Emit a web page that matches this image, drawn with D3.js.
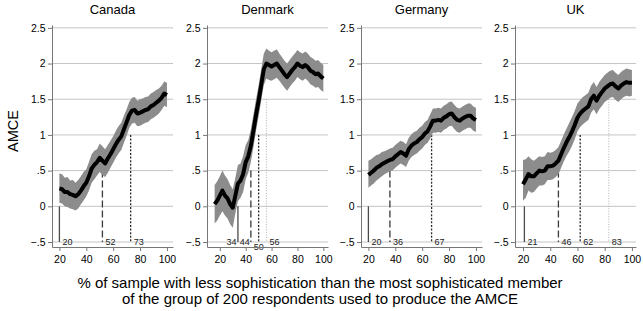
<!DOCTYPE html>
<html>
<head>
<meta charset="utf-8">
<script src="https://cdn.jsdelivr.net/npm/d3@7"></script>
<style>
body { margin: 0; background: #fff; }
svg { display: block; font-family: "Liberation Sans", Arial, Helvetica, sans-serif; }
</style>
</head>
<body>
<svg width="643" height="311"></svg>
<script>
//panel names
const countries = ["Canada", "Denmark", "Germany", "UK"];

//Canada: % of sample, AMCE, lower and upper bound
const canadaX = [20,22,24,26,28,30,32,34,36,38,40,42,44,46,48,50,52,54,56,58,60,62,64,66,68,70,72,74,76,78,80,82,84,86,88,90,92,94,96,98,100];
const canadaAmce = [0.25,0.24,0.2,0.2,0.17,0.16,0.14,0.17,0.22,0.28,0.33,0.42,0.53,0.58,0.62,0.68,0.64,0.6,0.67,0.73,0.8,0.87,0.93,0.98,1.08,1.18,1.28,1.34,1.35,1.3,1.31,1.33,1.35,1.36,1.4,1.42,1.45,1.48,1.52,1.58,1.56];
const canadaHi = [0.46,0.45,0.4,0.41,0.36,0.37,0.33,0.37,0.42,0.48,0.52,0.62,0.73,0.78,0.8,0.88,0.84,0.8,0.86,0.92,0.98,1.06,1.12,1.17,1.27,1.36,1.46,1.52,1.53,1.48,1.5,1.51,1.53,1.54,1.58,1.6,1.63,1.65,1.69,1.75,1.73];
const canadaLo = [0.05,0.04,0.0,-0.01,-0.03,-0.04,-0.06,-0.03,0.03,0.08,0.14,0.22,0.33,0.38,0.43,0.48,0.44,0.41,0.47,0.54,0.61,0.68,0.74,0.79,0.89,0.99,1.1,1.16,1.17,1.12,1.13,1.15,1.17,1.18,1.22,1.24,1.27,1.3,1.35,1.41,1.39];

//Denmark
const denmarkX = [16,18,20,22,24,26,28,30,32,34,36,38,40,42,44,46,48,50,52,54,56,58,60,62,64,66,68,70,72,74,76,78,80,82,84,86,88,90,92,94,96,98,100];
const denmarkAmce = [0.03,0.08,0.15,0.22,0.15,0.11,0.03,-0.02,0.15,0.32,0.36,0.45,0.62,0.7,0.85,1.06,1.28,1.48,1.7,1.92,2.0,1.98,1.96,1.98,2.0,1.95,1.9,1.85,1.81,1.86,1.91,1.95,2.0,1.97,1.95,1.98,1.95,1.9,1.88,1.85,1.86,1.82,1.79];
const denmarkHi = [0.3,0.35,0.42,0.5,0.43,0.38,0.3,0.24,0.4,0.58,0.6,0.7,0.86,0.93,1.08,1.29,1.5,1.7,1.92,2.14,2.21,2.18,2.16,2.18,2.2,2.14,2.09,2.04,2.0,2.05,2.1,2.14,2.19,2.16,2.14,2.17,2.14,2.09,2.07,2.04,2.05,2.01,1.98];
const denmarkLo = [-0.24,-0.2,-0.13,-0.07,-0.13,-0.17,-0.25,-0.3,-0.1,0.07,0.12,0.2,0.38,0.47,0.62,0.83,1.06,1.26,1.48,1.7,1.79,1.77,1.76,1.78,1.8,1.76,1.71,1.66,1.62,1.67,1.72,1.76,1.81,1.78,1.76,1.79,1.76,1.71,1.69,1.66,1.67,1.63,1.6];

//Germany
const germanyX = [20,22,24,26,28,30,32,34,36,38,40,42,44,46,48,50,52,54,56,58,60,62,64,66,68,70,72,74,76,78,80,82,84,86,88,90,92,94,96,98,100];
const germanyAmce = [0.44,0.47,0.5,0.54,0.56,0.59,0.61,0.63,0.65,0.66,0.7,0.73,0.76,0.74,0.71,0.8,0.85,0.88,0.9,0.94,0.97,1.02,1.05,1.12,1.2,1.2,1.21,1.2,1.24,1.26,1.29,1.3,1.25,1.21,1.2,1.23,1.25,1.27,1.27,1.23,1.21];
const germanyHi = [0.64,0.66,0.69,0.72,0.73,0.76,0.77,0.79,0.81,0.82,0.86,0.89,0.92,0.9,0.87,0.96,1.01,1.04,1.06,1.1,1.13,1.18,1.21,1.29,1.37,1.37,1.38,1.37,1.41,1.43,1.46,1.47,1.42,1.38,1.37,1.4,1.42,1.44,1.44,1.4,1.38];
const germanyLo = [0.26,0.29,0.32,0.36,0.39,0.42,0.45,0.47,0.49,0.5,0.54,0.57,0.6,0.58,0.55,0.64,0.69,0.72,0.74,0.78,0.81,0.86,0.89,0.95,1.03,1.03,1.04,1.03,1.07,1.09,1.12,1.13,1.08,1.04,1.03,1.06,1.08,1.1,1.1,1.06,1.04];

//UK
const ukX = [20,22,24,26,28,30,32,34,36,38,40,42,44,46,48,50,52,54,56,58,60,62,64,66,68,70,72,74,76,78,80,82,84,86,88,90,92,94,96,98,100];
const ukAmce = [0.31,0.38,0.45,0.42,0.42,0.46,0.5,0.49,0.5,0.56,0.56,0.57,0.6,0.64,0.73,0.82,0.9,0.97,1.05,1.14,1.24,1.3,1.34,1.37,1.4,1.5,1.55,1.48,1.55,1.6,1.65,1.68,1.71,1.72,1.68,1.65,1.69,1.72,1.74,1.73,1.73];
const ukHi = [0.65,0.66,0.7,0.66,0.64,0.67,0.7,0.69,0.7,0.76,0.75,0.76,0.79,0.83,0.92,1.01,1.09,1.17,1.25,1.34,1.44,1.49,1.53,1.56,1.59,1.69,1.74,1.67,1.74,1.79,1.84,1.87,1.9,1.91,1.87,1.84,1.88,1.91,1.93,1.92,1.91];
const ukLo = [0.08,0.12,0.22,0.19,0.2,0.25,0.29,0.29,0.31,0.37,0.37,0.38,0.41,0.45,0.54,0.63,0.71,0.77,0.85,0.94,1.05,1.11,1.15,1.18,1.21,1.31,1.36,1.29,1.36,1.41,1.46,1.49,1.52,1.53,1.49,1.46,1.5,1.53,1.55,1.54,1.55];

//cut points: where the AMCE passes 0, .5, 1 and 1.5
const cutLevels = [0, 0.5, 1, 1.5];
const canadaCuts = [20, 52, 73];
const denmarkCuts = [34, 44, 50, 56];
const germanyCuts = [20, 36, 67];
const ukCuts = [21, 46, 62, 83];

//ticks
const yTicks = [-0.5, 0, 0.5, 1, 1.5, 2, 2.5];
const yTickLabels = ["\u2212.5", "0", ".5", "1", "1.5", "2", "2.5"];
const xTicks = [20, 40, 60, 80, 100];

const xTitle = [
  "% of sample with less sophistication than the most sophisticated member",
  "of the group of 200 respondents used to produce the AMCE"
];

//table for drawing
let panels = [
  { name: countries[0], x: canadaX, amce: canadaAmce, lo: canadaLo, hi: canadaHi, cuts: canadaCuts, left: 52, domain: [14.5, 104.5] },
  { name: countries[1], x: denmarkX, amce: denmarkAmce, lo: denmarkLo, hi: denmarkHi, cuts: denmarkCuts, left: 207, domain: [10.1, 103.6] },
  { name: countries[2], x: germanyX, amce: germanyAmce, lo: germanyLo, hi: germanyHi, cuts: germanyCuts, left: 361, domain: [14.5, 104.5] },
  { name: countries[3], x: ukX, amce: ukAmce, lo: ukLo, hi: ukHi, cuts: ukCuts, left: 515, domain: [14.1, 103] }
];

//line styles of the cut lines (solid, dashed, dotted, light dotted)
const cutStyles = [
  { dash: null, color: "#4a4a4a", width: 1.3 },
  { dash: "7,3", color: "#3a3a3a", width: 1.3 },
  { dash: "2,1.6", color: "#2a2a2a", width: 1.3 },
  { dash: "1,1.6", color: "#b0b0b0", width: 1 }
];
//label placement for crowded Denmark panel
const labelPlace = {
  Denmark: [
    { anchor: "end", dx: -1.5, dy: 0 },
    { anchor: "end", dx: -1, dy: 0 },
    { anchor: "middle", dx: 0, dy: 5 },
    { anchor: "start", dx: 3, dy: 0 }
  ]
};

let svg = d3.select("svg");
const panelWidth = 121;

let y = d3.scaleLinear().domain([-0.57, 2.54]).range([247, 25]);

panels.forEach(function(p) {
  let g = svg.append("g").attr("transform", "translate(" + p.left + ",0)");
  let x = d3.scaleLinear().domain(p.domain).range([0, panelWidth]);

  //grid
  g.selectAll(".grid")
    .data(yTicks)
    .enter()
    .append("line")
    .attr("class", "grid")
    .attr("x1", 0)
    .attr("x2", panelWidth)
    .attr("y1", function(d) { return y(d); })
    .attr("y2", function(d) { return y(d); })
    .attr("stroke", "#c4c4c4")
    .attr("stroke-width", 1);

  //cut lines
  g.selectAll(".cut")
    .data(p.cuts)
    .enter()
    .append("line")
    .attr("class", "cut")
    .attr("x1", function(d) { return x(d); })
    .attr("x2", function(d) { return x(d); })
    .attr("y1", function(d, i) { return y(cutLevels[i]); })
    .attr("y2", y(-0.5))
    .attr("stroke", function(d, i) { return cutStyles[i].color; })
    .attr("stroke-width", function(d, i) { return cutStyles[i].width; })
    .attr("stroke-dasharray", function(d, i) { return cutStyles[i].dash; });

  //confidence band
  let rows = p.x.map(function(v, i) {
    return { x: v, m: p.amce[i], lo: p.lo[i], hi: p.hi[i] };
  });
  g.append("path")
    .datum(rows)
    .attr("fill", "#8c8c8c")
    .attr("d", d3.area()
      .x(function(d) { return x(d.x); })
      .y0(function(d) { return y(d.lo); })
      .y1(function(d) { return y(d.hi); }));

  //AMCE line
  g.append("path")
    .datum(rows)
    .attr("fill", "none")
    .attr("stroke", "#000")
    .attr("stroke-width", 4)
    .attr("stroke-linejoin", "round")
    .attr("d", d3.line()
      .x(function(d) { return x(d.x); })
      .y(function(d) { return y(d.m); }));

  //cut labels
  let place = labelPlace[p.name];
  g.selectAll(".cutLabel")
    .data(p.cuts)
    .enter()
    .append("text")
    .attr("class", "cutLabel")
    .attr("x", function(d, i) { return x(d) + (place ? place[i].dx : 3); })
    .attr("y", function(d, i) { return y(-0.5) + (place ? place[i].dy : 0); })
    .attr("dy", "0.35em")
    .attr("text-anchor", function(d, i) { return place ? place[i].anchor : "start"; })
    .attr("font-size", "9px")
    .attr("fill", "#222")
    .text(function(d) { return d; });

  //axes
  let yAxis = g.append("g")
    .call(d3.axisLeft(y)
      .tickValues(yTicks)
      .tickSize(4)
      .tickSizeOuter(0)
      .tickPadding(2.5)
      .tickFormat(function(d, i) { return yTickLabels[i]; }));
  let xAxis = g.append("g")
    .attr("transform", "translate(0,247)")
    .call(d3.axisBottom(x)
      .tickValues(xTicks)
      .tickSize(4)
      .tickSizeOuter(0)
      .tickPadding(5));
  [yAxis, xAxis].forEach(function(a) {
    a.select(".domain").attr("stroke", "#777");
    a.selectAll(".tick line").attr("stroke", "#777");
    a.selectAll(".tick text")
      .attr("fill", "#000")
      .style("font-family", "Liberation Sans, Arial, sans-serif")
      .style("font-size", "10.5px");
  });

  //panel title
  g.append("text")
    .attr("x", panelWidth / 2)
    .attr("y", 14)
    .attr("text-anchor", "middle")
    .attr("font-size", "13px")
    .text(p.name);
});

//y title
svg.append("text")
  .attr("transform", "translate(13,131) rotate(-90)")
  .attr("text-anchor", "middle")
  .attr("dy", "0.35em")
  .attr("font-size", "14.5px")
  .text("AMCE");

//x title
svg.selectAll(".xTitle")
  .data(xTitle)
  .enter()
  .append("text")
  .attr("class", "xTitle")
  .attr("x", 320)
  .attr("y", function(d, i) { return 288 + i * 16; })
  .attr("text-anchor", "middle")
  .attr("font-size", "15px")
  .text(function(d) { return d; });
</script>
</body>
</html>
